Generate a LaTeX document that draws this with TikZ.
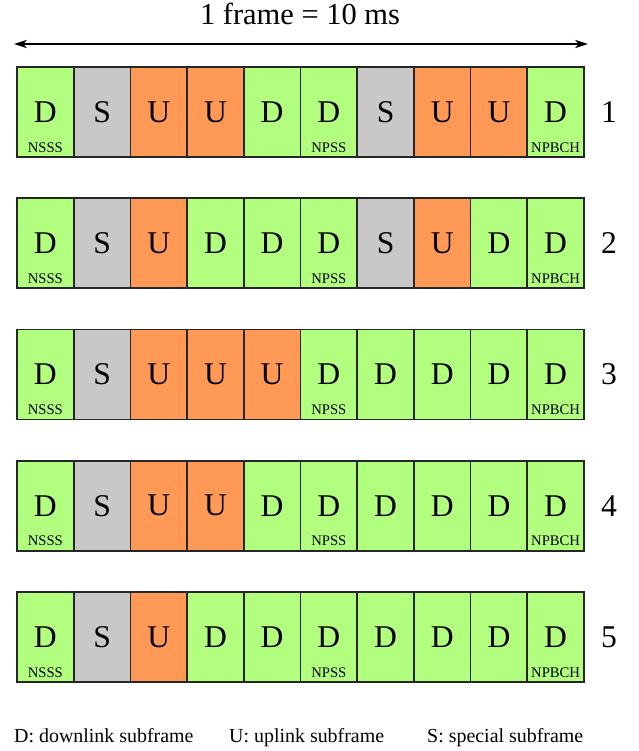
\documentclass[tikz,border=0pt]{standalone}
\usepackage{fontspec}
\setmainfont{Liberation Serif}
\usetikzlibrary{arrows.meta,positioning}
\definecolor{fillD}{RGB}{178,255,128}
\definecolor{fillU}{RGB}{255,153,85}
\definecolor{fillS}{RGB}{200,200,200}
\tikzset{
  cell/.style={rectangle, draw=black!85, line width=1.4pt,
               minimum width=1.701cm, minimum height=2.7cm,
               inner sep=0pt, font=\fontsize{27}{30}\selectfont},
  sub/.style={font=\fontsize{12.5}{13}\selectfont, inner sep=0pt},
  arr/.style={{Stealth[length=11pt,width=7pt,inset=3pt]}-{Stealth[length=11pt,width=7pt,inset=3pt]}, line width=1.2pt},
}
\begin{document}
\begin{tikzpicture}[x=0.03cm,y=-0.03cm]
  \useasboundingbox (0,0) rectangle (638,751);
  % title and frame length
  \node[font=\fontsize{26}{28}\selectfont] (title) at (300,14) {1 frame = 10 ms};
  \coordinate (arrL) at (14,44);
  \coordinate (arrR) at (588,44);
  \draw[arr] (arrL) -- (arrR);
  % the five configurations
  \foreach \r/\types in {1/{D,S,U,U,D,D,S,U,U,D},
                         2/{D,S,U,D,D,D,S,U,D,D},
                         3/{D,S,U,U,U,D,D,D,D,D},
                         4/{D,S,U,U,D,D,D,D,D,D},
                         5/{D,S,U,D,D,D,D,D,D,D}} {
    \foreach \t [count=\c] in \types {
      \node[cell, fill=fill\t] (r\r c\c) at ({17+56.7*\c-28.35},{112+131.25*(\r-1)}) {\t};
    }
    \node[sub, above=4.5pt] (nsss\r) at (r\r c1.south) {NSSS};
    \node[sub, above=4.5pt] (npss\r) at (r\r c6.south) {NPSS};
    \node[sub, above=4.5pt] (npbch\r) at (r\r c10.south) {NPBCH};
    \node[font=\fontsize{27}{30}\selectfont] (num\r) at (609,{112+131.25*(\r-1)}) {\r};
  }
  % legend
  \node[anchor=base west, font=\fontsize{17}{19}\selectfont, inner sep=0pt] (legD) at (14,742) {D: downlink subframe};
  \node[anchor=base west, font=\fontsize{17}{19}\selectfont, inner sep=0pt] (legU) at (229,742) {U: uplink subframe};
  \node[anchor=base west, font=\fontsize{17}{19}\selectfont, inner sep=0pt] (legS) at (427,742) {S: special subframe};
\end{tikzpicture}
\end{document}
